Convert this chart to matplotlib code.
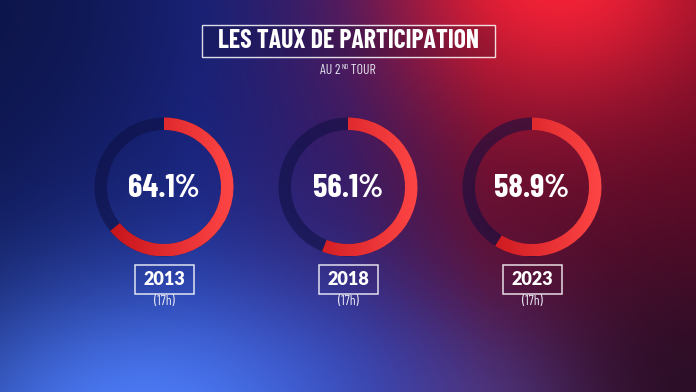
import numpy as np
import matplotlib
matplotlib.use('Agg')
import matplotlib.pyplot as plt
from matplotlib.patches import Wedge, Rectangle

# données
years = ['2013', '2018', '2023']
taux = [64.1, 56.1, 58.9]
heures = ['(17h)', '(17h)', '(17h)']
titre = 'LES TAUX DE PARTICIPATION'

W, H = 696, 392
fig = plt.figure(figsize=(W / 100, H / 100), dpi=100)
ax = fig.add_axes([0, 0, 1, 1])
ax.set_xlim(0, W)
ax.set_ylim(H, 0)
ax.axis('off')

fam_cond = ['Barlow Condensed', 'DejaVu Sans']

# fond dégradé bleu -> violet -> rouge
xx, yy = np.meshgrid(np.arange(W) + 0.5, np.arange(H) + 0.5)
u = xx / W
stops = np.array([0.0, 0.28, 0.5, 0.7, 1.0])
cols = np.array([[16, 26, 92], [26, 36, 128], [52, 26, 100], [100, 14, 48], [105, 10, 38]], float)
img = np.zeros((H, W, 3))
for k in range(3):
    img[..., k] = np.interp(u, stops, cols[:, k])

def glow(cx, cy, rx, ry, col, a):
    d2 = ((xx - cx) / rx) ** 2 + ((yy - cy) / ry) ** 2
    w = a * np.exp(-d2)
    return w[..., None] * (np.array(col, float)[None, None, :] - img)

img += glow(560, -30, 170, 140, [255, 35, 55], 0.95)
img += glow(330, 400, 200, 110, [40, 52, 165], 0.75)
img += glow(140, 430, 230, 150, [80, 130, 255], 0.95)
img += glow(510, 420, 120, 90, [95, 80, 175], 0.55)
img += glow(0, 0, 180, 160, [12, 20, 65], 0.6)
img += glow(W, H, 170, 170, [30, 14, 38], 0.8)
ax.imshow(np.clip(img, 0, 255).astype(np.uint8), extent=[0, W, H, 0], zorder=0)

centers_x = [164, 348, 532]
cy = 187
r_out, width = 69.5, 12.5

# dégradé horizontal pour l'arc rouge
grad = np.linspace(0, 1, 256)
c0 = np.array([192, 14, 22]) / 255
c1 = np.array([255, 70, 70]) / 255
red_img = (c0[None, :] + (c1 - c0)[None, :] * grad[:, None])[None, :, :]

for cx, yr, p, h in zip(centers_x, years, taux, heures):
    # anneau de fond
    ax.add_patch(Wedge((cx, cy), r_out, 0, 360, width=width,
                       facecolor=(0.05, 0.06, 0.25), alpha=0.55, lw=0, zorder=2))
    # arc rouge, sens horaire depuis midi
    end = -90 + 360 * p / 100
    arc = Wedge((cx, cy), r_out, -90, end, width=width, facecolor='none', lw=0)
    ax.add_patch(arc)
    im = ax.imshow(red_img, extent=[cx - r_out, cx + r_out, cy + r_out, cy - r_out],
                   interpolation='bilinear', zorder=3)
    im.set_clip_path(arc)
    ax.text(cx, cy + 1, f'{p:.1f}%', color='white', fontsize=23.5, fontweight='bold',
            family=fam_cond, ha='center', va='center', zorder=4)
    ax.add_patch(Rectangle((cx - 29.5, 264.5), 59, 29, fill=False,
                           edgecolor=(1, 1, 1, 0.85), lw=1.1, zorder=4))
    ax.text(cx, 279.5, yr, color='white', fontsize=13, fontweight='heavy',
            family=['Lato', 'DejaVu Sans'], ha='center', va='center', zorder=5)
    ax.text(cx, 301, h, color=(0.92, 0.92, 0.96), fontsize=10, fontweight='normal',
            family=fam_cond, ha='center', va='center', zorder=5)

# titre
ax.add_patch(Rectangle((201.5, 24.5), 293.5, 32, facecolor=(0.05, 0.03, 0.15, 0.2),
                       edgecolor=(1, 1, 1, 0.85), lw=1.0, zorder=4))
ax.text(348, 41, titre, color='white', fontsize=18.5, fontweight='bold',
        family=fam_cond, ha='center', va='center', zorder=5)

# sous-titre "AU 2ND TOUR" avec exposant
sub_col = (0.9, 0.9, 0.94)
r = fig.canvas.get_renderer()
t1 = ax.text(0, 74, 'AU 2', color=sub_col, fontsize=10, family=fam_cond, va='baseline')
t2 = ax.text(0, 69, 'ND', color=sub_col, fontsize=5.5, family=fam_cond, va='baseline')
t3 = ax.text(0, 74, ' TOUR', color=sub_col, fontsize=10, family=fam_cond, va='baseline')
w1 = t1.get_window_extent(r).width
w2 = t2.get_window_extent(r).width
w3 = t3.get_window_extent(r).width
x0 = 348 - (w1 + w2 + w3) / 2
t1.set_x(x0)
t2.set_x(x0 + w1 + 0.3)
t3.set_x(x0 + w1 + w2 + 0.3)

fig.savefig('out.png', dpi=100)
